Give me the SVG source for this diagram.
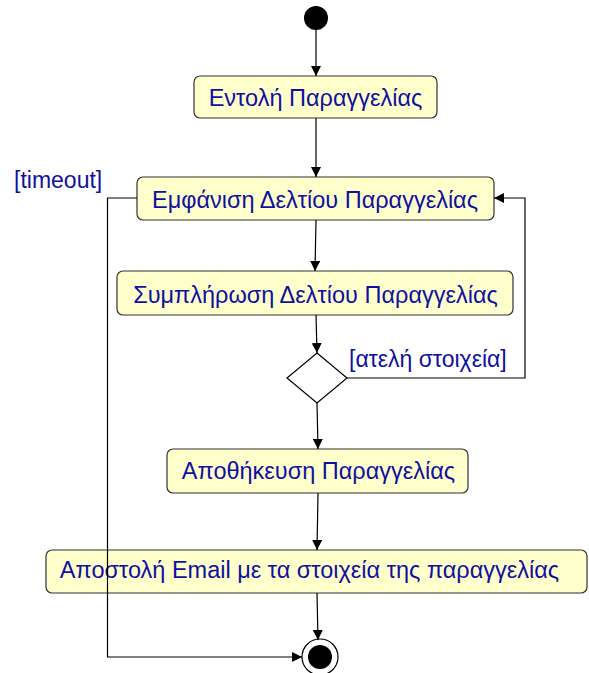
<svg xmlns="http://www.w3.org/2000/svg" width="589" height="673" viewBox="0 0 589 673">
  <style>
    .act { fill: #FFFFCC; stroke: #333333; stroke-width: 1.2; }
    .lbl { font-family: "Liberation Sans", Arial, sans-serif; font-size: 23.5px; fill: #1010A0; }
    .guard { font-family: "Liberation Sans", Arial, sans-serif; font-size: 23px; fill: #1010A0; }
    .mid { text-anchor: middle; }
    .edge { fill: none; stroke: #000000; stroke-width: 1.2; }
  </style>
  <defs>
    <marker id="arrow" viewBox="0 0 10 10" refX="10" refY="5" markerWidth="10" markerHeight="10" markerUnits="userSpaceOnUse" orient="auto">
      <path d="M0,0 L10,5 L0,10 Z" fill="#000000"/>
    </marker>
  </defs>
  <rect width="589" height="673" fill="#FFFFFF"/>

  <g id="start">
    <circle cx="316" cy="18" r="12" fill="#000000"/>
  </g>

  <g id="entoli">
    <rect class="act" x="194" y="76" width="243" height="42" rx="6"/>
    <text class="lbl mid" x="315.5" y="106">Εντολή Παραγγελίας</text>
  </g>

  <g id="emfanisi">
    <rect class="act" x="137" y="177" width="357" height="43" rx="6"/>
    <text class="lbl mid" x="315" y="207.5">Εμφάνιση Δελτίου Παραγγελίας</text>
  </g>

  <g id="symplirosi">
    <rect class="act" x="117" y="271" width="396" height="44" rx="6"/>
    <text class="lbl mid" x="315.5" y="302.5">Συμπλήρωση Δελτίου Παραγγελίας</text>
  </g>

  <g id="decision">
    <polygon points="317,353 347,378 317,403 287,378" fill="#FFFFFF" stroke="#000000" stroke-width="1.2"/>
  </g>

  <g id="apothikeusi">
    <rect class="act" x="167" y="449" width="301" height="44" rx="6"/>
    <text class="lbl mid" x="318.5" y="479">Αποθήκευση Παραγγελίας</text>
  </g>

  <g id="apostoli">
    <rect class="act" x="46" y="550" width="541" height="43" rx="6"/>
    <text class="lbl mid" x="309.5" y="578">Αποστολή Email με τα στοιχεία της παραγγελίας</text>
  </g>

  <g id="end">
    <circle cx="320" cy="657" r="18" fill="#FFFFFF" stroke="#000000" stroke-width="1.2"/>
    <circle cx="320" cy="657" r="12" fill="#000000"/>
  </g>

  <!-- transitions are drawn last, so the timeout line shows across the email box -->
  <g id="connectors">
    <line class="edge" x1="316" y1="30" x2="316" y2="76" marker-end="url(#arrow)"/>
    <line class="edge" x1="316" y1="118" x2="316" y2="177" marker-end="url(#arrow)"/>
    <line class="edge" x1="316" y1="220" x2="315" y2="271" marker-end="url(#arrow)"/>
    <line class="edge" x1="316" y1="315" x2="317" y2="353" marker-end="url(#arrow)"/>
    <line class="edge" x1="317" y1="403" x2="318" y2="449" marker-end="url(#arrow)"/>
    <line class="edge" x1="318" y1="493" x2="317" y2="550" marker-end="url(#arrow)"/>
    <line class="edge" x1="317" y1="593" x2="318" y2="640" marker-end="url(#arrow)"/>
    <polyline class="edge" points="137,198 107.5,198 107.5,657 302,657" marker-end="url(#arrow)"/>
    <polyline class="edge" points="347,378 525,378 525,198 494,198" marker-end="url(#arrow)"/>
    <text class="guard" x="14" y="188">[timeout]</text>
    <text class="guard" x="349" y="367">[ατελή στοιχεία]</text>
  </g>
</svg>
